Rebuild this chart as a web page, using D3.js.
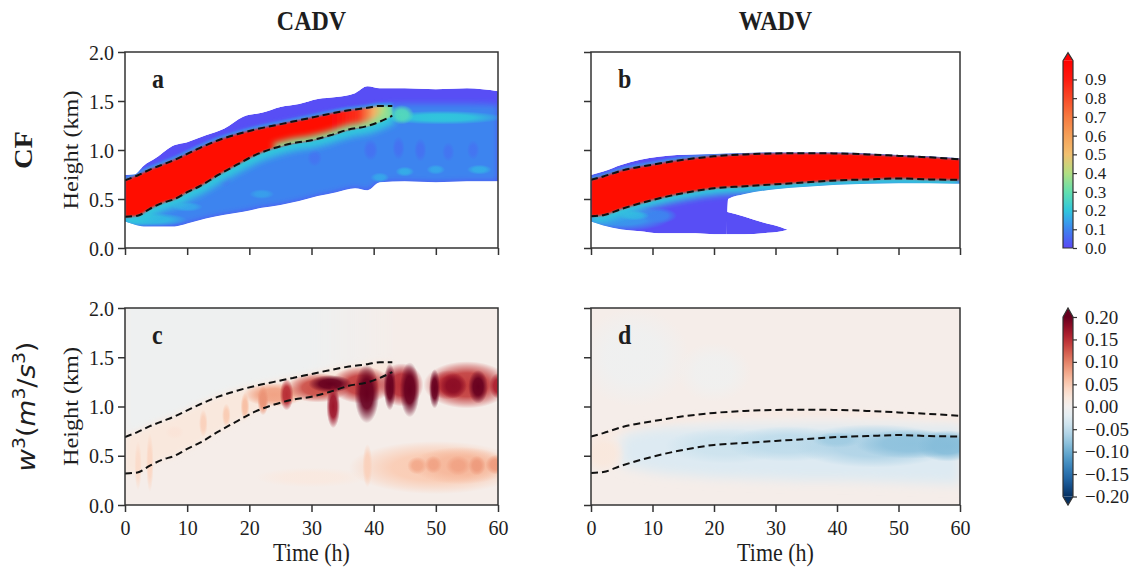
<!DOCTYPE html>
<html>
<head>
<meta charset="utf-8">
<title>CF and w3, CADV vs WADV</title>
<script src="https://cdn.jsdelivr.net/npm/d3@7"></script>
<style>
  body { margin: 0; background: #fff; }
  text { font-family: "Liberation Serif", "Times New Roman", serif; fill: #1e1e1e; }
</style>
</head>
<body>
<div id="wrapper"></div>
<script>
// ---------- data ----------
const timeTicks = [0, 10, 20, 30, 40, 50, 60]
const heightTicks = [0, 0.5, 1.0, 1.5, 2.0]
const cfTicks = [0, 0.1, 0.2, 0.3, 0.4, 0.5, 0.6, 0.7, 0.8, 0.9]
const w3Ticks = [-0.2, -0.15, -0.1, -0.05, 0, 0.05, 0.1, 0.15, 0.2]
const columnTitles = ["CADV", "WADV"]
const panelLetters = ["a", "b", "c", "d"]

// colour maps (contour levels of the two colour bars)
const cfLevels = [0, 0.05, 0.1, 0.15, 0.2, 0.3, 0.4, 0.5, 0.6, 0.7, 0.8, 0.9, 1.0]
const cfColors = ["#5b48f6", "#4a66f3", "#3e84ef", "#36a6ea", "#30c6dc", "#62dfae",
  "#b2df82", "#f2c070", "#f5a058", "#f67a40", "#f84a28", "#fe1a10", "#ff0000"]

// cloud top / cloud base (dashed lines), km
const cadvTime = [0, 2, 4, 6, 8, 10, 12, 15, 18, 21, 24, 27, 30, 33, 36, 39, 41, 43]
const cadvTop  = [0.69, 0.74, 0.80, 0.85, 0.90, 0.96, 1.02, 1.10, 1.16, 1.21, 1.25, 1.29, 1.33, 1.37, 1.405, 1.43, 1.45, 1.45]
const cadvBase = [0.32, 0.33, 0.40, 0.46, 0.50, 0.57, 0.63, 0.745, 0.85, 0.95, 1.02, 1.07, 1.10, 1.15, 1.21, 1.245, 1.29, 1.35]
const wadvTime = [0, 2, 5, 10, 15, 20, 25, 30, 35, 40, 45, 50, 55, 60]
const wadvTop  = [0.695, 0.73, 0.79, 0.85, 0.90, 0.935, 0.955, 0.965, 0.967, 0.965, 0.955, 0.94, 0.925, 0.905]
const wadvBase = [0.325, 0.335, 0.40, 0.49, 0.56, 0.61, 0.63, 0.65, 0.67, 0.69, 0.70, 0.71, 0.70, 0.695]

// CF > 0 envelope, CADV
const cfaEdgeTime = [0, 1.5, 3, 5, 8, 10, 13, 16, 19, 22, 25, 28, 31, 34, 37, 39, 41, 45, 50, 55, 60]
const cfaEdgeTop  = [0.745, 0.75, 0.84, 0.92, 1.05, 1.08, 1.15, 1.22, 1.34, 1.38, 1.44, 1.47, 1.52, 1.54, 1.58, 1.65, 1.63, 1.63, 1.62, 1.63, 1.60]
const cfaEdgeBot  = [0.27, 0.24, 0.22, 0.22, 0.22, 0.25, 0.30, 0.34, 0.37, 0.41, 0.44, 0.48, 0.53, 0.57, 0.61, 0.59, 0.67, 0.68, 0.67, 0.68, 0.68]
const cfaBlueTop  = [0.69, 0.72, 0.78, 0.83, 0.90, 0.95, 1.04, 1.12, 1.18, 1.23, 1.27, 1.31, 1.35, 1.38, 1.41, 1.43, 1.45, 1.47, 1.47, 1.47, 1.46]

// CF > 0 envelope, WADV (main band + low-level tail)
const cfbEdgeTime = [0, 2, 5, 8, 11, 14, 17, 20, 22, 22.3, 25, 30, 35, 40, 45, 50, 55, 60]
const cfbEdgeTop  = [0.745, 0.78, 0.85, 0.90, 0.93, 0.95, 0.955, 0.96, 0.965, 0.965, 0.97, 0.975, 0.975, 0.975, 0.965, 0.95, 0.935, 0.915]
const cfbEdgeBot  = [0.27, 0.23, 0.19, 0.17, 0.15, 0.15, 0.15, 0.14, 0.14, 0.50, 0.55, 0.60, 0.625, 0.645, 0.655, 0.66, 0.66, 0.655]
const cfbTailTime = [22, 25, 28, 31, 32]
const cfbTailTop  = [0.37, 0.32, 0.26, 0.21, 0.185]
const cfbTailBot  = [0.14, 0.14, 0.15, 0.17, 0.185]

// local features: [time h, height km, half-width h, half-depth km, value]
const cfaPatches = [
  [4, 0.29, 6, 0.07, 0.18],
  [10, 0.42, 2.5, 0.05, 0.15],
  [22, 0.55, 2, 0.05, 0.14],
  [41, 0.72, 1.5, 0.05, 0.15],
  [45, 0.78, 1.5, 0.05, 0.16],
  [50, 0.80, 1.5, 0.05, 0.15],
  [57, 0.80, 2, 0.05, 0.16],
  [16, 0.70, 1.2, 0.08, 0.075],
  [30.5, 0.92, 1.2, 0.09, 0.075],
  [39.5, 1.00, 1.2, 0.11, 0.07],
  [44, 1.02, 1.0, 0.12, 0.07],
  [47.5, 1.00, 1.0, 0.12, 0.07],
  [52, 0.98, 1.0, 0.10, 0.075],
  [56, 1.00, 1.0, 0.10, 0.075],
  [51, 1.33, 10, 0.07, 0.2],
  [44.5, 1.36, 2, 0.10, 0.27]
]
const cfbPatches = [
  [5, 0.30, 8, 0.13, 0.13],
  [11, 0.33, 3, 0.08, 0.1],
  [7, 0.33, 2.5, 0.05, 0.17]
]
const w3cPatches = [
  [30, 0.28, 9, 0.10, 0.018],
  [50, 0.38, 14, 0.27, 0.05],
  [54, 0.40, 8, 0.19, 0.065],
  [47, 0.40, 1.6, 0.09, 0.075],
  [49.6, 0.41, 1.4, 0.09, 0.08],
  [53.6, 0.40, 2.0, 0.10, 0.08],
  [56.6, 0.40, 1.4, 0.10, 0.085],
  [59.6, 0.41, 1.6, 0.10, 0.085],
  [39, 0.40, 0.8, 0.22, 0.045],
  [2.1, 0.40, 0.6, 0.25, 0.035],
  [4.0, 0.43, 0.6, 0.3, 0.04],
  [8, 0.74, 1.5, 0.07, 0.025],
  [24, 1.12, 5, 0.12, 0.08],
  [31, 1.19, 5, 0.15, 0.13],
  [38, 1.22, 5, 0.19, 0.14],
  [44.5, 1.22, 3.5, 0.22, 0.15],
  [55, 1.22, 7, 0.24, 0.14],
  [52, 1.22, 3, 0.15, 0.15],
  [12.6, 0.83, 0.7, 0.14, 0.045],
  [16.3, 0.91, 0.7, 0.12, 0.05],
  [19.3, 1.00, 0.7, 0.14, 0.06],
  [22.2, 1.06, 0.9, 0.15, 0.09],
  [26, 1.12, 1.1, 0.16, 0.15],
  [33, 1.23, 3.5, 0.09, 0.22],
  [33.5, 1.00, 1.1, 0.22, 0.17],
  [38.9, 1.13, 2.0, 0.30, 0.24],
  [42.6, 1.20, 1.0, 0.24, 0.22],
  [45.8, 1.17, 1.6, 0.28, 0.25],
  [49.8, 1.18, 0.9, 0.20, 0.22],
  [52.8, 1.21, 2.2, 0.13, 0.18],
  [56.8, 1.20, 1.6, 0.17, 0.22],
  [60, 1.21, 1.4, 0.13, 0.16]
]
const w3dPatches = [
  [7, 1.5, 9, 0.5, -0.004],
  [20, 1.35, 6, 0.3, -0.003],
  [22, 0.60, 10, 0.18, -0.04],
  [32, 0.62, 10, 0.18, -0.05],
  [46, 0.60, 13, 0.22, -0.06],
  [52, 0.62, 9, 0.15, -0.08],
  [58, 0.60, 5, 0.16, -0.085],
  [40, 0.66, 4, 0.08, -0.07],
  [2, 0.52, 3.5, 0.2, 0.02]
]
// weak negative w3 layer and positive rim under cloud top, WADV
const w3dBlueTime = [5, 8, 12, 16, 20, 25, 30, 35, 40, 45, 50, 55, 60]
const w3dBlueTop  = [0.70, 0.75, 0.78, 0.79, 0.80, 0.81, 0.81, 0.815, 0.815, 0.81, 0.81, 0.80, 0.80]
const w3dBlueBot  = [0.40, 0.36, 0.32, 0.30, 0.28, 0.27, 0.26, 0.25, 0.25, 0.24, 0.23, 0.22, 0.21]
const w3dPinkBot  = [0.62, 0.66, 0.72, 0.78, 0.83, 0.86, 0.88, 0.89, 0.895, 0.895, 0.89, 0.88, 0.86, 0.84]

// ---------- layout ----------
const width = 1146
const height = 573
const stretch = 1.1   // glyphs in the figure are a little taller than wide
const panels = [
  {key: "a", left: 125, right: 498, top: 52, bottom: 248, xLabels: false, yLabels: true},
  {key: "b", left: 591, right: 960, top: 52, bottom: 248, xLabels: false, yLabels: false},
  {key: "c", left: 125, right: 498, top: 308, bottom: 505, xLabels: true, yLabels: true},
  {key: "d", left: 591, right: 960, top: 308, bottom: 505, xLabels: true, yLabels: false}
]

const wrapper = d3.select("#wrapper").append("svg")
  .attr("width", width)
  .attr("height", height)
const defs = wrapper.append("defs")
;[1, 2, 3, 4, 6].forEach(s => {
  defs.append("filter").attr("id", "blur" + s)
      .attr("x", "-50%").attr("y", "-50%").attr("width", "200%").attr("height", "200%")
    .append("feGaussianBlur").attr("stdDeviation", s)
})

const cfColor = d3.scaleLinear().domain(cfLevels).range(cfColors).clamp(true)
const w3Color = v => d3.interpolateRdBu(0.5 - Math.max(-0.2, Math.min(0.2, v)) / 0.4)

const toRows = (ts, lo, hi) => ts.map((t, i) => ({t, lo: lo[i], hi: hi[i]}))
const cadvRows = toRows(cadvTime, cadvBase, cadvTop)
const wadvRows = toRows(wadvTime, wadvBase, wadvTop)

function addText(str, x, y, {size = 20, weight = "normal", anchor = "middle", rotate = 0} = {}) {
  return wrapper.append("text")
    .attr("transform", rotate
      ? `translate(${x},${y}) rotate(${rotate}) scale(${stretch},1)`
      : `translate(${x},${y}) scale(1,${stretch})`)
    .attr("text-anchor", anchor)
    .attr("font-size", size)
    .attr("font-weight", weight)
    .text(str)
}

function drawPatches(g, p, patches, colorOf) {
  const stops = [[0, 1], [0.5, 0.92], [0.8, 0.4], [1, 0]]
  patches.forEach((d, i) => {
    const grad = defs.append("radialGradient").attr("id", `patch-${p.key}-${i}`)
    grad.selectAll("stop").data(stops).join("stop")
      .attr("offset", s => s[0])
      .attr("stop-color", colorOf(d[4]))
      .attr("stop-opacity", s => s[1])
  })
  g.append("g").selectAll("ellipse").data(patches).join("ellipse")
    .attr("cx", d => p.x(d[0]))
    .attr("cy", d => p.y(d[1]))
    .attr("rx", d => p.x(d[0] + d[2]) - p.x(d[0]))
    .attr("ry", d => p.y(d[1]) - p.y(d[1] + d[3]))
    .attr("fill", (d, i) => `url(#patch-${p.key}-${i})`)
}

// ---------- panels ----------
panels.forEach((p, pi) => {
  p.x = d3.scaleLinear().domain([0, 60]).range([p.left, p.right])
  p.y = d3.scaleLinear().domain([0, 2]).range([p.bottom, p.top])
  p.area = d3.area().x(d => p.x(d.t)).y0(d => p.y(d.lo)).y1(d => p.y(d.hi)).curve(d3.curveMonotoneX)
  p.line = key => d3.line().x(d => p.x(d.t)).y(d => p.y(d[key])).curve(d3.curveMonotoneX)

  defs.append("clipPath").attr("id", "clip-" + p.key)
    .append("rect")
      .attr("x", p.left).attr("y", p.top)
      .attr("width", p.right - p.left).attr("height", p.bottom - p.top)

  const g = wrapper.append("g").attr("clip-path", `url(#clip-${p.key})`)
  const rows = p.key === "a" || p.key === "c" ? cadvRows : wadvRows

  if (p.key === "a") {
    const env = toRows(cfaEdgeTime, cfaEdgeBot, cfaEdgeTop)
    defs.append("clipPath").attr("id", "env-a").append("path").attr("d", p.area(env))
    defs.append("clipPath").attr("id", "core-clip-a").append("path").attr("d", p.area(rows))
    const e = g.append("g").attr("clip-path", "url(#env-a)")
    e.append("path").attr("d", p.area(env)).attr("fill", cfColor(0.01))
    e.append("path").attr("d", p.area(toRows(cfaEdgeTime, cfaEdgeBot, cfaBlueTop)))
      .attr("fill", cfColor(0.1)).attr("filter", "url(#blur3)")
    drawPatches(e, p, cfaPatches, cfColor)
    e.append("path").attr("d", p.line("lo")(rows)).attr("fill", "none")
      .attr("stroke", cfColor(0.2)).attr("stroke-width", 16).attr("filter", "url(#blur3)")
    e.append("path").attr("d", p.line("hi")(rows)).attr("fill", "none")
      .attr("stroke", cfColor(0.12)).attr("stroke-width", 6).attr("filter", "url(#blur1)")
    const core = defs.append("linearGradient").attr("id", "core-a")
      .attr("gradientUnits", "userSpaceOnUse")
      .attr("x1", p.x(33)).attr("x2", p.x(43)).attr("y1", 0).attr("y2", 0)
    core.selectAll("stop").data([[0, 0.97], [0.45, 0.85], [0.7, 0.55], [0.85, 0.4], [1, 0.3]]).join("stop")
      .attr("offset", d => d[0]).attr("stop-color", d => cfColor(d[1]))
    e.append("path").attr("d", p.area(rows)).attr("fill", "url(#core-a)").attr("filter", "url(#blur1)")
    // thinning of the dense core near the base late in the run
    e.append("g").attr("clip-path", "url(#core-clip-a)")
      .append("path").attr("d", p.line("lo")(rows.filter(d => d.t >= 24))).attr("fill", "none")
      .attr("stroke", cfColor(0.35)).attr("stroke-width", 9).attr("filter", "url(#blur3)")
  }

  if (p.key === "b") {
    const env = toRows(cfbEdgeTime, cfbEdgeBot, cfbEdgeTop)
    const tail = toRows(cfbTailTime, cfbTailBot, cfbTailTop)
    const envClip = defs.append("clipPath").attr("id", "env-b")
    envClip.append("path").attr("d", p.area(env))
    envClip.append("path").attr("d", p.area(tail))
    const e = g.append("g").attr("clip-path", "url(#env-b)")
    e.append("path").attr("d", p.area(env)).attr("fill", cfColor(0.01))
    e.append("path").attr("d", p.area(tail)).attr("fill", cfColor(0.01))
    drawPatches(e, p, cfbPatches, cfColor)
    e.append("path").attr("d", p.line("lo")(rows)).attr("fill", "none")
      .attr("stroke", cfColor(0.2)).attr("stroke-width", 14).attr("filter", "url(#blur3)")
    e.append("path").attr("d", p.line("hi")(rows)).attr("fill", "none")
      .attr("stroke", cfColor(0.12)).attr("stroke-width", 6).attr("filter", "url(#blur1)")
    e.append("path").attr("d", p.area(rows)).attr("fill", cfColor(0.97)).attr("filter", "url(#blur1)")
  }

  if (p.key === "c") {
    g.append("rect").attr("x", p.left).attr("y", p.top)
      .attr("width", p.right - p.left).attr("height", p.bottom - p.top)
      .attr("fill", w3Color(0.008))
    const fade = defs.append("linearGradient").attr("id", "above-c")
      .attr("gradientUnits", "userSpaceOnUse")
      .attr("x1", p.x(30)).attr("x2", p.x(44)).attr("y1", 0).attr("y2", 0)
    fade.selectAll("stop").data([[0, 1], [1, 0]]).join("stop")
      .attr("offset", d => d[0]).attr("stop-color", w3Color(-0.006)).attr("stop-opacity", d => d[1])
    const above = d3.area().x(d => p.x(d.t)).y0(d => p.y(d.hi)).y1(p.y(2) - 20).curve(d3.curveMonotoneX)
    g.append("path").attr("d", above(rows)).attr("fill", "url(#above-c)").attr("filter", "url(#blur4)")
    g.append("path").attr("d", p.area(rows)).attr("fill", w3Color(0.02)).attr("filter", "url(#blur3)")
    drawPatches(g, p, w3cPatches, w3Color)
  }

  if (p.key === "d") {
    g.append("rect").attr("x", p.left).attr("y", p.top)
      .attr("width", p.right - p.left).attr("height", p.bottom - p.top)
      .attr("fill", w3Color(0.008))
    g.append("path").attr("d", p.area(toRows(wadvTime, w3dPinkBot, wadvTop)))
      .attr("fill", w3Color(0.015)).attr("filter", "url(#blur2)")
    g.append("path").attr("d", p.area(toRows(w3dBlueTime, w3dBlueBot, w3dBlueTop)))
      .attr("fill", w3Color(-0.026)).attr("filter", "url(#blur6)")
    drawPatches(g, p, w3dPatches, w3Color)
  }

  // dashed cloud top and cloud base
  g.selectAll(".bound").data(["hi", "lo"]).join("path")
    .attr("class", "bound")
    .attr("d", k => p.line(k)(rows))
    .attr("fill", "none")
    .attr("stroke", "#111")
    .attr("stroke-width", 2)
    .attr("stroke-dasharray", "7,4")

  // frame and axes
  wrapper.append("rect")
    .attr("x", p.left).attr("y", p.top)
    .attr("width", p.right - p.left).attr("height", p.bottom - p.top)
    .attr("fill", "none").attr("stroke", "#333").attr("stroke-width", 1.5)

  const xAxis = d3.axisBottom(p.x).tickValues(timeTicks).tickSize(7).tickPadding(6)
    .tickFormat(p.xLabels ? d3.format("d") : () => "")
  const yAxis = d3.axisLeft(p.y).tickValues(heightTicks).tickSize(7).tickPadding(4)
    .tickFormat(p.yLabels ? d3.format(".1f") : () => "")
  ;[[xAxis, `translate(0,${p.bottom})`], [yAxis, `translate(${p.left},0)`]].forEach(([ax, tr]) => {
    const ag = wrapper.append("g").attr("transform", tr).call(ax)
    ag.select(".domain").remove()
    ag.selectAll(".tick line").attr("stroke", "#333").attr("stroke-width", 1.5)
    ag.selectAll(".tick text").attr("font-size", 20).attr("fill", "#1e1e1e")
      .attr("transform", `scale(1,${stretch})`)
  })

  addText(panelLetters[pi], p.left + 27, p.top + 36, {size: 24, weight: "bold", anchor: "start"})
  if (p.xLabels) addText("Time (h)", (p.left + p.right) / 2, 561, {size: 22})
  if (p.yLabels) addText("Height (km)", p.left - 47, (p.top + p.bottom) / 2, {size: 22, rotate: -90})
})

// ---------- titles ----------
addText(columnTitles[0], (panels[0].left + panels[0].right) / 2, 30, {size: 24, weight: "bold"})
addText(columnTitles[1], (panels[1].left + panels[1].right) / 2, 30, {size: 24, weight: "bold"})
addText("CF", 32, (panels[0].top + panels[0].bottom) / 2, {size: 26, weight: "bold", rotate: -90})

const w3Label = wrapper.append("text")
  .attr("transform", `translate(35,${(panels[2].top + panels[2].bottom) / 2}) rotate(-90) scale(${stretch},1)`)
  .attr("text-anchor", "middle")
  .style("font-family", "'DejaVu Sans', sans-serif")
  .attr("font-size", 25)
;[["w", true], ["3", "sup"], ["(", false], ["m", true], ["3", "sup"], ["/", false], ["s", true], ["3", "sup"], [")", false]]
  .forEach(([s, kind], i, all) => {
    const prevSup = i > 0 && all[i - 1][1] === "sup"
    w3Label.append("tspan")
      .attr("font-style", kind === true ? "italic" : "normal")
      .attr("font-size", kind === "sup" ? 17 : null)
      .attr("dy", kind === "sup" ? -10 : prevSup ? 10 : null)
      .text(s)
  })

// ---------- colour bars ----------
const cbLeft = 1063
const cbRight = 1073
const cbBars = [
  {id: "cf", top: 60.7, bottom: 248, tipTop: 52.7, tipBottom: null, domain: [0, 1], ticks: cfTicks,
    fmt: d3.format(".1f"), color: cfColor, steps: d3.range(0, 1.0001, 0.05), fontSize: 17},
  {id: "w3", top: 317, bottom: 496.5, tipTop: 308, tipBottom: 505, domain: [-0.2, 0.2], ticks: w3Ticks,
    fmt: d3.format(".2f"), color: w3Color, steps: d3.range(-0.2, 0.2001, 0.02), fontSize: 19}
]
cbBars.forEach(cb => {
  const scale = d3.scaleLinear().domain(cb.domain).range([cb.bottom, cb.top])
  const grad = defs.append("linearGradient").attr("id", "cb-" + cb.id)
    .attr("gradientUnits", "userSpaceOnUse")
    .attr("x1", 0).attr("x2", 0).attr("y1", cb.bottom).attr("y2", cb.top)
  grad.selectAll("stop").data(cb.steps).join("stop")
    .attr("offset", v => (v - cb.domain[0]) / (cb.domain[1] - cb.domain[0]))
    .attr("stop-color", v => cb.color(v))
  wrapper.append("rect")
    .attr("x", cbLeft).attr("y", cb.top)
    .attr("width", cbRight - cbLeft).attr("height", cb.bottom - cb.top)
    .attr("fill", `url(#cb-${cb.id})`)
  const mid = (cbLeft + cbRight) / 2
  wrapper.append("path")
    .attr("d", `M${cbLeft},${cb.top}L${mid},${cb.tipTop}L${cbRight},${cb.top}Z`)
    .attr("fill", cb.color(cb.domain[1] + 1))
  if (cb.tipBottom) {
    wrapper.append("path")
      .attr("d", `M${cbLeft},${cb.bottom}L${mid},${cb.tipBottom}L${cbRight},${cb.bottom}Z`)
      .attr("fill", cb.color(cb.domain[0] - 1))
  }
  const outline = cb.tipBottom
    ? `M${cbLeft},${cb.top}L${mid},${cb.tipTop}L${cbRight},${cb.top}L${cbRight},${cb.bottom}L${mid},${cb.tipBottom}L${cbLeft},${cb.bottom}Z`
    : `M${cbLeft},${cb.top}L${mid},${cb.tipTop}L${cbRight},${cb.top}L${cbRight},${cb.bottom}L${cbLeft},${cb.bottom}Z`
  wrapper.append("path").attr("d", outline)
    .attr("fill", "none").attr("stroke", "#333").attr("stroke-width", 1.2)

  const ag = wrapper.append("g").attr("transform", `translate(${cbRight},0)`)
    .call(d3.axisRight(scale).tickValues(cb.ticks).tickSize(4).tickPadding(8).tickFormat(cb.fmt))
  ag.select(".domain").remove()
  ag.selectAll(".tick line").attr("stroke", "#333").attr("stroke-width", 1.2)
  ag.selectAll(".tick text").attr("font-size", cb.fontSize).attr("fill", "#1e1e1e")
})
</script>
</body>
</html>
